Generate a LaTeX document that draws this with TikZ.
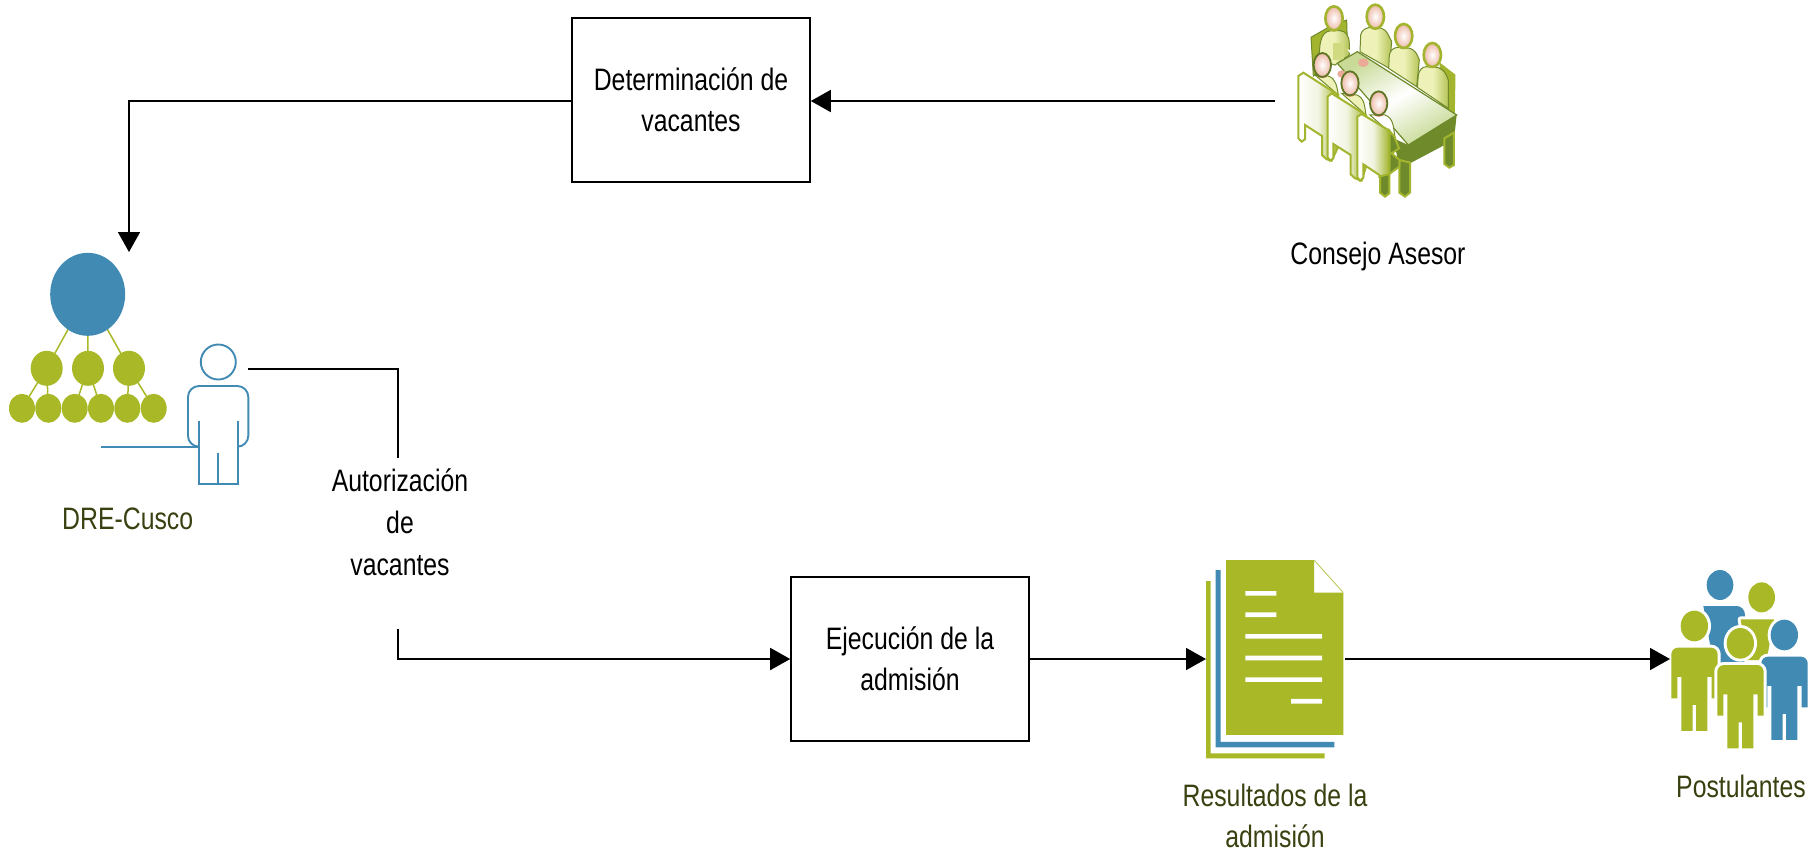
\documentclass[tikz,border=0pt]{standalone}
\usepackage{fontspec}
\setmainfont[FakeStretch=0.8]{Liberation Sans}
\usetikzlibrary{arrows.meta,shadings}
\definecolor{grn}{HTML}{A8B826}
\definecolor{blu}{HTML}{418AB3}
\definecolor{dkg}{HTML}{6F8A2A}
\definecolor{olv}{HTML}{3A4010}
\definecolor{rimg}{HTML}{A3B52E}
\definecolor{skin}{HTML}{EDB9A6}
\definecolor{neck}{HTML}{E0705A}
\definecolor{tblg}{HTML}{C8DA96}
\definecolor{palet}{HTML}{EEF2B8}
\newcommand{\lblfont}{\fontsize{31}{41}\selectfont}
\tikzset{
 boxnode/.style={draw=black,line width=1.6pt,fill=white,minimum width=238pt,minimum height=164pt,inner sep=0pt,align=center,font=\lblfont},
 txt/.style={inner sep=0pt,align=center,font=\lblfont,text=black},
 olvtxt/.style={txt,text=olv},
 conn/.style={draw=black,line width=1.7pt,line join=miter},
 arr/.style={conn,-{Triangle[length=20pt,width=22pt]}},
 bluline/.style={draw=blu,line width=1.9pt},
 hd/.style={draw=rimg,line width=2.6pt,inner color=white,outer color=skin},
 hdf/.style={draw=dkg!85!black,line width=1.8pt,inner color=white,outer color=skin},
 chairf/.style={draw=rimg,line width=2pt,left color=white,right color=rimg,middle color=white!85!rimg},
 torso/.style={draw=dkg,line width=1pt,left color=palet,right color=rimg!80!white,middle color=palet},
 halo/.style={preaction={draw=white,line width=6pt,line join=round}},
}
\newcommand{\grpperson}[4]{% colour, left x, body top y, head y (zoom units)
 \fill[#1,halo] ({#2+69},#4) ellipse (41 and 46);
 \path[fill=#1,halo]
   ({#2+20},#3) -- ({#2+119},#3) to[out=0,in=90] ({#2+139},{#3+20}) -- ({#2+139},{#3+152})
   -- ({#2+121},{#3+152}) -- ({#2+121},{#3+88}) -- ({#2+108},{#3+88})
   -- ({#2+108},{#3+250}) -- ({#2+74},{#3+250}) -- ({#2+74},{#3+172}) -- ({#2+64},{#3+172})
   -- ({#2+64},{#3+250}) -- ({#2+30},{#3+250}) -- ({#2+30},{#3+88}) -- ({#2+18},{#3+88})
   -- ({#2+18},{#3+152}) -- (#2,{#3+152}) -- (#2,{#3+20}) to[out=90,in=180] ({#2+20},#3) -- cycle;
}
\begin{document}
\begin{tikzpicture}[x=1pt,y=-1pt]
\useasboundingbox (0,0) rectangle (1809,855);

% ---------- Consejo icon (zoom units, 1/3 px)
\begin{scope}[shift={(1260,0)},x=0.3333pt,y=-0.3333pt]
 % back chairs
 \fill[rimg,draw=dkg,line width=1pt] (153,112) -- (205,82) -- (260,60) -- (262,130) -- (240,175) -- (160,228) -- cycle;
 \fill[rimg,draw=rimg,line width=1pt] (540,190) -- (585,225) -- (583,340) -- (540,310) -- cycle;
 % back people
 \path[torso] (178,180) to[out=90,in=180] (215,92) -- (240,92) to[out=0,in=90] (268,130) -- (268,165) -- (225,195) -- cycle;
 \fill[palet!60!rimg] (218,130) rectangle (252,180);
 \path[torso] (300,155) -- (302,105) to[out=80,in=180] (335,82) -- (365,85) to[out=-20,in=120] (395,125) -- (388,205) -- cycle;
 \path[torso] (386,205) -- (388,165) to[out=80,in=180] (415,142) -- (450,145) to[out=-20,in=110] (478,180) -- (470,260) -- cycle;
 \path[torso] (472,262) -- (475,225) to[out=80,in=180] (500,200) -- (535,203) to[out=-20,in=110] (565,240) -- (565,325) -- cycle;
 \foreach \hx/\hy in {222/55,346/50,431/108,517/165}{
   \fill[neck] (\hx,{\hy+33}) ellipse (14 and 6);
   \path[hd] (\hx,\hy) ellipse (26 and 36);
 }
 % table top
 \path[fill=white] (262,148) -- (290,155) -- (330,195) -- (300,205) -- cycle;
 \path[draw=dkg,line width=1.2pt,left color=tblg,right color=tblg,middle color=white,shading angle=30]
   (232,190) -- (292,155) -- (590,345) -- (445,435) -- cycle;
 \fill[skin!80!neck] (310,188) ellipse (16 and 13);
 \fill[skin!80!neck] (245,222) ellipse (13 and 11);
 % underside and legs
 \path[fill=dkg] (400,415) -- (445,435) -- (590,345) -- (582,420) -- (450,490) -- (418,500) -- cycle;
 \path[fill=dkg,draw=rimg,line width=2pt] (553,415) -- (582,398) -- (582,495) -- (568,503) -- (553,492) -- cycle;
 \path[fill=dkg,draw=rimg,line width=2pt] (418,480) -- (450,488) -- (450,578) -- (435,590) -- (418,578) -- cycle;
 % front people
 \path[fill=palet,draw=dkg,line width=1pt] (165,225) -- (205,228) to[out=-20,in=100] (235,285) -- cycle;
 \path[fill=palet,draw=dkg,line width=1pt] (245,280) -- (290,285) to[out=-20,in=100] (318,345) -- cycle;
 \path[fill=white,draw=dkg,line width=1pt] (330,345) -- (375,345) to[out=-20,in=100] (405,412) -- cycle;
 \fill[neck] (187,228) ellipse (14 and 6);
 \fill[neck] (270,284) ellipse (14 and 6);
 \fill[neck] (356,344) ellipse (14 and 6);
 \path[hdf] (187,195) ellipse (26 and 36);
 \path[hdf] (270,250) ellipse (26 and 36);
 \path[hdf] (356,310) ellipse (26 and 36);
 % front chairs
 \path[chairf] (115,228) -- (130,218) -- (235,285) -- (235,440) -- (215,482) -- (200,478) -- (186,465) -- (186,408) -- (135,375) -- (135,418) -- (125,425) -- (115,415) -- cycle;
 \path[chairf] (203,290) -- (215,280) -- (318,345) -- (318,500) -- (305,542) -- (285,535) -- (272,523) -- (272,465) -- (220,432) -- (220,475) -- (210,482) -- (203,472) -- cycle;
 \path[fill=dkg,draw=rimg,line width=2pt] (388,392) -- (403,410) -- (417,445) -- (395,460) -- (418,480) -- (418,500) -- (388,522) -- (388,580) -- (375,590) -- (360,578) -- (360,525) -- (388,500) -- cycle;
 \path[chairf] (292,350) -- (305,342) -- (388,392) -- (388,522) -- (358,530) -- (358,525) -- (310,493) -- (310,533) -- (300,542) -- (292,532) -- cycle;
\end{scope}

% ---------- DRE icon
\draw[grn,line width=1.5pt]
 (87.7,294) -- (46.7,368) (87.7,294) -- (88,368) (87.7,294) -- (129,368)
 (46.7,368) -- (22,408) (46.7,368) -- (48.3,408) (88,368) -- (74.7,408) (88,368) -- (101,408)
 (129,368) -- (127.3,408) (129,368) -- (153.7,408);
\fill[blu] (87.7,294.3) ellipse (37.5 and 41.5);
\foreach \cx in {46.7,88,129}{\fill[grn] (\cx,368.3) ellipse (16 and 17.5);}
\foreach \cx in {22,48.3,74.7,101,127.3,153.7}{\fill[grn] (\cx,408.3) ellipse (13 and 14.5);}
\draw[bluline] (218.3,362) circle (17.5);
\draw[bluline,rounded corners=11pt] (198.7,446.7) -- (188,446.7) -- (188,386) -- (248.3,386) -- (248.3,446.7) -- (238,446.7);
\draw[bluline] (198.7,421) -- (198.7,484) -- (238,484) -- (238,421) (218.3,453) -- (218.3,484) (101,446.7) -- (198.7,446.7);

% ---------- document icon
\begin{scope}[shift={(1180,540)},x=0.3333pt,y=-0.3333pt]
 \fill[grn] (78,123) -- (92,123) -- (92,640) -- (434,640) -- (434,655) -- (78,655) -- cycle;
 \fill[blu] (107,90) -- (122,90) -- (122,606) -- (463,606) -- (463,622) -- (107,622) -- cycle;
 \fill[grn] (138,60) -- (402,60) -- (402,158) -- (490,158) -- (490,585) -- (138,585) -- cycle;
 \draw[grn!70!white,line width=1pt] (402,60) -- (490,158);
 \fill[white] (196,153) rectangle (289,167) (196,217) rectangle (289,231)
   (196,282) rectangle (426,296) (196,347) rectangle (426,361)
   (196,412) rectangle (426,426) (333,477) rectangle (426,491);
\end{scope}

% ---------- people icon
\begin{scope}[shift={(1650,550)},x=0.3333pt,y=-0.3333pt]
 \fill[blu] (210,105) ellipse (40 and 45);
 \fill[blu] (160,168) -- (260,168) to[out=0,in=90] (285,195) -- (285,340) -- (190,340) -- cycle;
 \path[fill=grn,halo] (335,142) ellipse (40 and 45);
 \path[fill=grn,halo] (272,208) -- (372,208) -- (350,330) -- (290,330) -- cycle;
 \grpperson{blu}{334}{320}{255}
 \grpperson{grn}{64}{293}{228}
 \grpperson{grn}{202}{345}{280}
\end{scope}

% ---------- nodes
\node[boxnode] (det) at (691,100) {Determinación de\\vacantes};
\node[boxnode] (eje) at (910,659) {Ejecución de la\\admisión};
\node[txt] (aut) at (400,522) {Autorización\\[1pt]de\\[1pt]vacantes};
\node[txt] (con) at (1378,256) {Consejo Asesor};
\node[olvtxt] (dre) at (127.7,519) {DRE-Cusco};
\node[olvtxt] (res) at (1275,816) {Resultados de la\\admisión};
\node[olvtxt] (pos) at (1741,786) {Postulantes};

\coordinate (conout) at (1275,101);
\coordinate (drein) at (129,252);
\coordinate (dreout) at (248,369);
\coordinate (autin) at (398,458);
\coordinate (autout) at (398,629);
\coordinate (docin) at (1206,659);
\coordinate (docout) at (1345,659);
\coordinate (posin) at (1670,659);

\draw[arr] (conout) -- (det.east |- conout);
\draw[arr] (det.west |- conout) -| (drein);
\draw[conn] (dreout) -| (autin);
\draw[arr] (autout) |- (eje.west);
\draw[arr] (eje.east) -- (docin);
\draw[arr] (docout) -- (posin);
\end{tikzpicture}
\end{document}
